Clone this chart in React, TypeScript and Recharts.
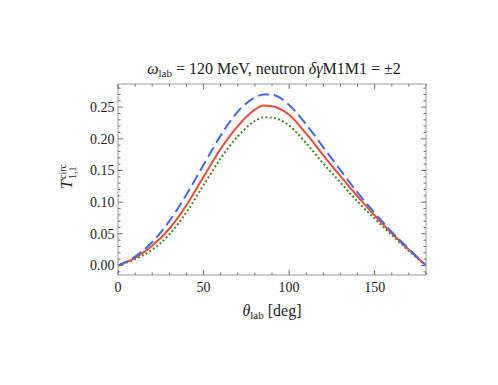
import { LineChart, Line, XAxis, YAxis } from 'recharts';

// scattering angle in degrees
const ANGLES = [0, 10, 20, 30, 40, 50, 60, 70, 80, 85, 90, 100, 110, 120, 130, 140, 150, 160, 170, 180];

// T_{1,1}^circ for the three delta-gamma-M1M1 choices
const CENTRAL = [0, 0.012, 0.031, 0.058, 0.095, 0.14, 0.184, 0.22, 0.246, 0.2525, 0.2515, 0.238, 0.208, 0.174, 0.141, 0.109, 0.079, 0.051, 0.025, 0];
const PLUS = [0, 0.014, 0.037, 0.07, 0.112, 0.159, 0.205, 0.243, 0.265, 0.27, 0.2695, 0.2535, 0.2225, 0.1865, 0.1505, 0.115, 0.083, 0.053, 0.026, 0];
const MINUS = [0, 0.01, 0.025, 0.049, 0.084, 0.127, 0.169, 0.204, 0.228, 0.234, 0.2335, 0.221, 0.193, 0.161, 0.131, 0.101, 0.074, 0.048, 0.023, 0];

const X_TICKS = Array.from({ length: 19 }, (_, i) => i * 10);
const Y_TICKS = Array.from({ length: 30 }, (_, i) => (i - 1) / 100);

const data = ANGLES.map((a, i) => ({
  angle: a,
  central: CENTRAL[i],
  plus: PLUS[i],
  minus: MINUS[i],
}));

const FONT = '"Liberation Serif", serif';
const FRAME = '#9a9a9a';
const TICK = '#6f6f6f';
const TEXT = '#1c1c1c';

const isMajorX = (v: number) => v % 50 === 0;
const isMajorY = (v: number) => Math.round(v * 100) % 5 === 0;

function BottomTick(props: any) {
  const { x, y, payload } = props;
  const v = payload.value as number;
  const major = isMajorX(v);
  return (
    <g>
      <line x1={x} x2={x} y1={y} y2={y - (major ? 5 : 2.5)} stroke={TICK} />
      {major && (
        <text x={x} y={y + 17} textAnchor="middle" fontFamily={FONT} fontSize={14} fill={TEXT}>
          {v}
        </text>
      )}
    </g>
  );
}

function TopTick(props: any) {
  const { x, y, payload } = props;
  const major = isMajorX(payload.value);
  return <line x1={x} x2={x} y1={y} y2={y + (major ? 5 : 2.5)} stroke={TICK} />;
}

function LeftTick(props: any) {
  const { x, y, payload } = props;
  const v = payload.value as number;
  const major = isMajorY(v);
  return (
    <g>
      <line x1={x} x2={x + (major ? 5 : 2.5)} y1={y} y2={y} stroke={TICK} />
      {major && v >= 0 && (
        <text x={x - 3.5} y={y} dy="0.35em" textAnchor="end" fontFamily={FONT} fontSize={14} fill={TEXT}>
          {v.toFixed(2)}
        </text>
      )}
    </g>
  );
}

function RightTick(props: any) {
  const { x, y, payload } = props;
  const major = isMajorY(payload.value);
  return <line x1={x} x2={x - (major ? 5 : 2.5)} y1={y} y2={y} stroke={TICK} />;
}

export default function App() {
  return (
    <div style={{ position: 'absolute', left: 0, top: 0, width: 498, height: 385, background: '#fff' }}>
      <LineChart
        width={498}
        height={385}
        data={data}
        margin={{ top: 83, right: 71, bottom: 109, left: 117 }}
      >
        <XAxis
          xAxisId="bottom"
          dataKey="angle"
          type="number"
          domain={[0, 180]}
          ticks={X_TICKS}
          interval={0}
          height={1}
          tickSize={0}
          tickMargin={0}
          tick={BottomTick}
          axisLine={{ stroke: FRAME }}
          allowDataOverflow
        />
        <XAxis
          xAxisId="top"
          orientation="top"
          dataKey="angle"
          type="number"
          domain={[0, 180]}
          ticks={X_TICKS}
          interval={0}
          height={1}
          tickSize={0}
          tickMargin={0}
          tick={TopTick}
          axisLine={{ stroke: FRAME }}
          allowDataOverflow
        />
        <YAxis
          yAxisId="left"
          type="number"
          domain={[-0.015, 0.2865]}
          ticks={Y_TICKS}
          interval={0}
          width={1}
          tickSize={0}
          tickMargin={0}
          tick={LeftTick}
          axisLine={{ stroke: FRAME }}
          allowDataOverflow
        />
        <YAxis
          yAxisId="right"
          orientation="right"
          type="number"
          domain={[-0.015, 0.2865]}
          ticks={Y_TICKS}
          interval={0}
          width={1}
          tickSize={0}
          tickMargin={0}
          tick={RightTick}
          axisLine={{ stroke: FRAME }}
          allowDataOverflow
        />
        <Line
          xAxisId="bottom"
          yAxisId="left"
          type="monotone"
          dataKey="minus"
          stroke="#3f8a22"
          strokeWidth={2}
          strokeDasharray="2 2.3"
          dot={false}
          isAnimationActive={false}
        />
        <Line
          xAxisId="bottom"
          yAxisId="left"
          type="monotone"
          dataKey="central"
          stroke="#ef4a3a"
          strokeWidth={2}
          dot={false}
          isAnimationActive={false}
        />
        <Line
          xAxisId="bottom"
          yAxisId="left"
          type="monotone"
          dataKey="plus"
          stroke="#4366f2"
          strokeWidth={2}
          strokeDasharray="11 5"
          dot={false}
          isAnimationActive={false}
        />
      </LineChart>

      {/* title and axis labels */}
      <svg
        width={498}
        height={385}
        style={{ position: 'absolute', left: 0, top: 0, pointerEvents: 'none' }}
        fontFamily={FONT}
        fill={TEXT}
      >
        <text x={274} y={74} textAnchor="middle" fontSize={16}>
          <tspan fontStyle="italic">ω</tspan>
          <tspan fontSize={11} dy={3}>lab</tspan>
          <tspan dy={-3}> = 120 MeV, neutron </tspan>
          <tspan fontStyle="italic">δγ</tspan>
          <tspan>M1M1 = ±2</tspan>
        </text>
        <text x={272} y={316} textAnchor="middle" fontSize={16}>
          <tspan fontStyle="italic">θ</tspan>
          <tspan fontSize={11} dy={3}>lab</tspan>
          <tspan dy={-3}> [deg]</tspan>
        </text>
        <g transform="translate(72,177) rotate(-90)">
          <text x={-12} y={0} fontSize={16} fontStyle="italic">T</text>
          <text x={-2} y={-6} fontSize={10}>circ</text>
          <text x={-2} y={4} fontSize={10}>1,1</text>
        </g>
      </svg>
    </div>
  );
}
